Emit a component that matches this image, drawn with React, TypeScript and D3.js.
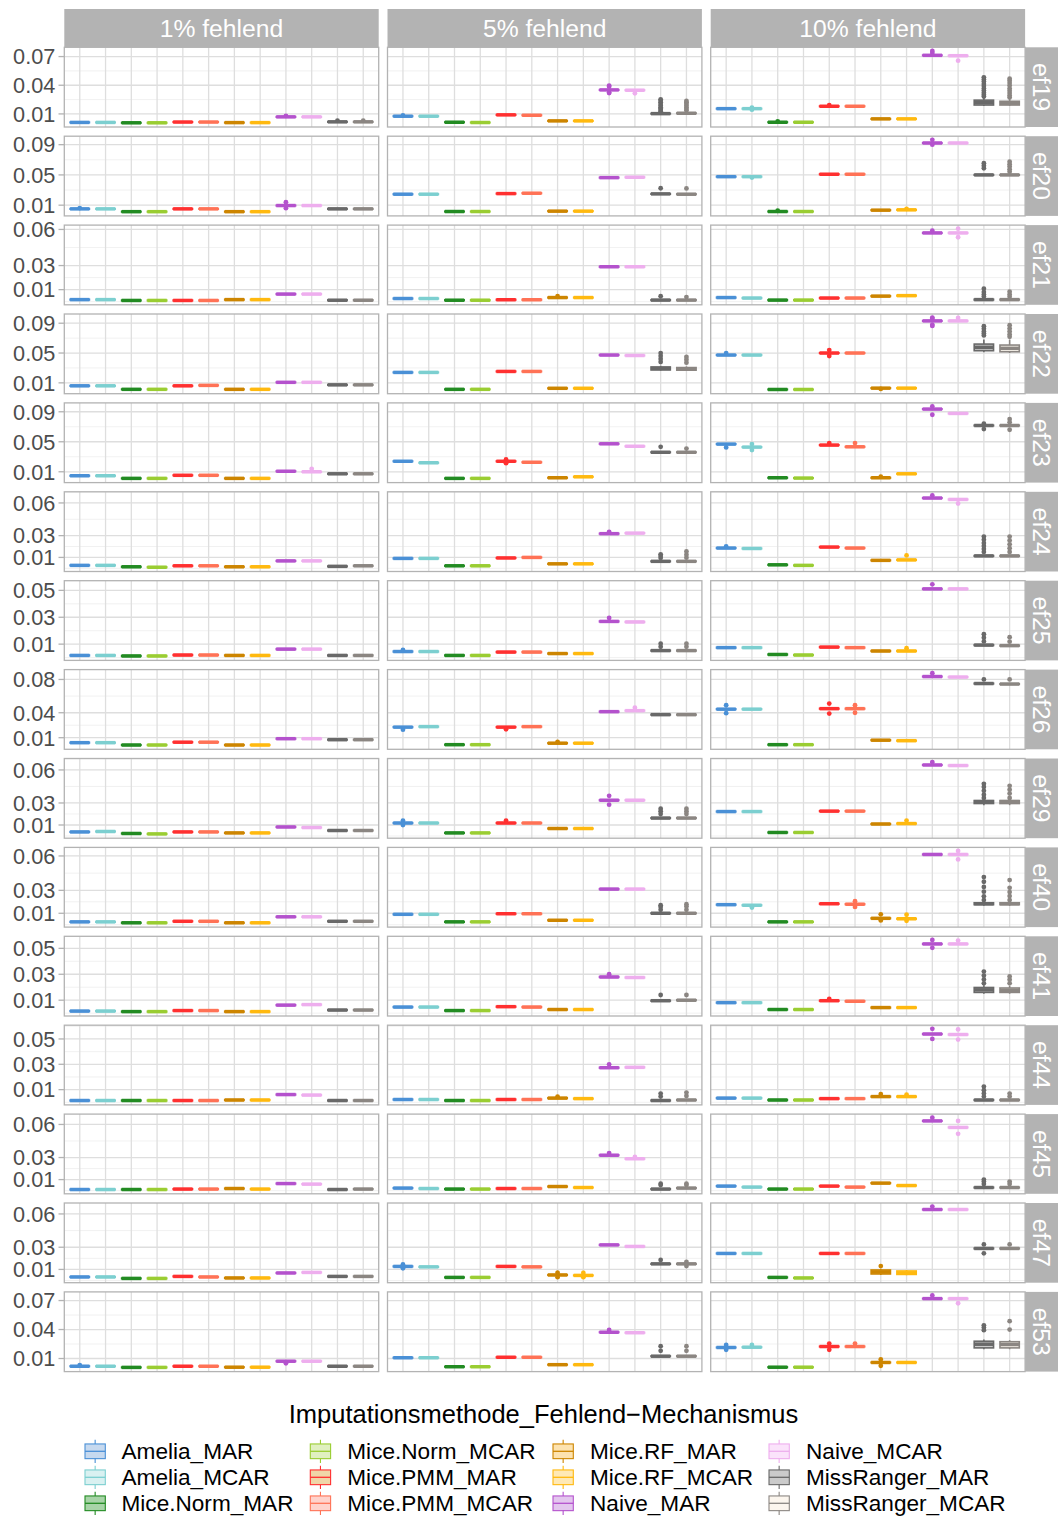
import React from 'react';
import * as d3 from 'd3';

const methods = [
  'Amelia_MAR', 'Amelia_MCAR', 'Mice.Norm_MAR', 'Mice.Norm_MCAR', 'Mice.PMM_MAR', 'Mice.PMM_MCAR',
  'Mice.RF_MAR', 'Mice.RF_MCAR', 'Naive_MAR', 'Naive_MCAR', 'MissRanger_MAR', 'MissRanger_MCAR',
];
const lineColors = [
  '#4a90d6', '#7ccfd0', '#228b22', '#9acd32', '#ff3030', '#ff7256',
  '#cd8500', '#ffb90f', '#b452cd', '#eeaeee', '#696969', '#8b8682',
];
const fillColors = [
  '#c6d9ef', '#d9f1f1', '#a8d4a8', '#e0f0c0', '#f0d6a8', '#ffd3cc',
  '#fde3b0', '#ffe9b5', '#e3c6ee', '#fbe3fb', '#cbcbcb', '#fcf6ee',
];
const facetCols = ['1% fehlend', '5% fehlend', '10% fehlend'];
const facetRows = ['ef19', 'ef20', 'ef21', 'ef22', 'ef23', 'ef24', 'ef25', 'ef26', 'ef29', 'ef40', 'ef41', 'ef44', 'ef45', 'ef47', 'ef53'];
const rowTicks = [
  [0.01, 0.04, 0.07], [0.01, 0.05, 0.09], [0.01, 0.03, 0.06], [0.01, 0.05, 0.09], [0.01, 0.05, 0.09],
  [0.01, 0.03, 0.06], [0.01, 0.03, 0.05], [0.01, 0.04, 0.08], [0.01, 0.03, 0.06], [0.01, 0.03, 0.06],
  [0.01, 0.03, 0.05], [0.01, 0.03, 0.05], [0.01, 0.03, 0.06], [0.01, 0.03, 0.06], [0.01, 0.04, 0.07],
];
// typical half interquartile range per row (boxes are very flat)
const rowHalfIQR = [0.0003, 0.0004, 0.0003, 0.0004, 0.0004, 0.0003, 0.0003, 0.0004, 0.0003, 0.0003, 0.0003, 0.0003, 0.0003, 0.0003, 0.0003];

// medians: [1% fehlend], [5% fehlend], [10% fehlend], each in methods order
const med_ef19 = [
  [0.0011, 0.0011, 0.0007, 0.0007, 0.0015, 0.0015, 0.0009, 0.0009, 0.0069, 0.0069, 0.0017, 0.0017],
  [0.0076, 0.0076, 0.0013, 0.0010, 0.0090, 0.0086, 0.0027, 0.0027, 0.0351, 0.0348, 0.0103, 0.0107],
  [0.0155, 0.0155, 0.0013, 0.0013, 0.0180, 0.0180, 0.0048, 0.0048, 0.0713, 0.0709, 0.0218, 0.0212],
];
const med_ef20 = [
  [0.0051, 0.0051, 0.0014, 0.0014, 0.0051, 0.0051, 0.0014, 0.0014, 0.0095, 0.0095, 0.0051, 0.0051],
  [0.0245, 0.0245, 0.0016, 0.0016, 0.0253, 0.0258, 0.0021, 0.0021, 0.0464, 0.0469, 0.0249, 0.0245],
  [0.0477, 0.0477, 0.0016, 0.0016, 0.0509, 0.0509, 0.0034, 0.0038, 0.0922, 0.0922, 0.0500, 0.0500],
];
const med_ef21 = [
  [0.0017, 0.0017, 0.0010, 0.0010, 0.0010, 0.0010, 0.0017, 0.0017, 0.0063, 0.0063, 0.0012, 0.0012],
  [0.0026, 0.0026, 0.0012, 0.0012, 0.0016, 0.0016, 0.0034, 0.0034, 0.0290, 0.0290, 0.0013, 0.0013],
  [0.0034, 0.0030, 0.0013, 0.0013, 0.0030, 0.0030, 0.0046, 0.0050, 0.0571, 0.0571, 0.0017, 0.0017],
];
const med_ef22 = [
  [0.0060, 0.0060, 0.0013, 0.0013, 0.0060, 0.0066, 0.0013, 0.0013, 0.0107, 0.0107, 0.0073, 0.0073],
  [0.0240, 0.0240, 0.0013, 0.0013, 0.0253, 0.0253, 0.0027, 0.0027, 0.0473, 0.0467, 0.0293, 0.0287],
  [0.0473, 0.0473, 0.0011, 0.0011, 0.0500, 0.0500, 0.0029, 0.0029, 0.0931, 0.0931, 0.0576, 0.0563],
];
const med_ef23 = [
  [0.0047, 0.0047, 0.0012, 0.0012, 0.0053, 0.0053, 0.0012, 0.0012, 0.0107, 0.0100, 0.0073, 0.0073],
  [0.0240, 0.0220, 0.0012, 0.0012, 0.0240, 0.0227, 0.0020, 0.0033, 0.0473, 0.0440, 0.0360, 0.0360],
  [0.0469, 0.0429, 0.0020, 0.0016, 0.0456, 0.0433, 0.0020, 0.0073, 0.0936, 0.0878, 0.0717, 0.0717],
];
const med_ef24 = [
  [0.0027, 0.0027, 0.0014, 0.0010, 0.0023, 0.0023, 0.0014, 0.0014, 0.0068, 0.0068, 0.0018, 0.0023],
  [0.0091, 0.0091, 0.0023, 0.0023, 0.0095, 0.0100, 0.0041, 0.0041, 0.0318, 0.0323, 0.0064, 0.0064],
  [0.0186, 0.0182, 0.0032, 0.0027, 0.0195, 0.0186, 0.0073, 0.0077, 0.0645, 0.0632, 0.0114, 0.0114],
];
const med_ef25 = [
  [0.0016, 0.0016, 0.0012, 0.0012, 0.0019, 0.0019, 0.0016, 0.0016, 0.0063, 0.0063, 0.0016, 0.0016],
  [0.0045, 0.0045, 0.0016, 0.0016, 0.0041, 0.0041, 0.0030, 0.0030, 0.0269, 0.0265, 0.0052, 0.0052],
  [0.0074, 0.0074, 0.0023, 0.0019, 0.0078, 0.0074, 0.0049, 0.0049, 0.0511, 0.0511, 0.0093, 0.0089],
];
const med_ef26 = [
  [0.0040, 0.0040, 0.0012, 0.0012, 0.0046, 0.0046, 0.0012, 0.0012, 0.0088, 0.0088, 0.0076, 0.0076],
  [0.0227, 0.0233, 0.0016, 0.0016, 0.0227, 0.0233, 0.0034, 0.0034, 0.0413, 0.0425, 0.0377, 0.0377],
  [0.0443, 0.0443, 0.0016, 0.0016, 0.0449, 0.0449, 0.0070, 0.0064, 0.0835, 0.0829, 0.0751, 0.0745],
];
const med_ef29 = [
  [0.0037, 0.0041, 0.0023, 0.0019, 0.0037, 0.0037, 0.0028, 0.0028, 0.0082, 0.0077, 0.0050, 0.0050],
  [0.0118, 0.0118, 0.0028, 0.0028, 0.0118, 0.0118, 0.0068, 0.0068, 0.0325, 0.0325, 0.0163, 0.0163],
  [0.0222, 0.0222, 0.0032, 0.0032, 0.0226, 0.0226, 0.0109, 0.0113, 0.0645, 0.0640, 0.0312, 0.0312],
];
const med_ef40 = [
  [0.0025, 0.0025, 0.0017, 0.0017, 0.0030, 0.0030, 0.0017, 0.0017, 0.0069, 0.0069, 0.0030, 0.0030],
  [0.0091, 0.0091, 0.0025, 0.0025, 0.0096, 0.0096, 0.0039, 0.0039, 0.0311, 0.0311, 0.0100, 0.0100],
  [0.0175, 0.0170, 0.0025, 0.0025, 0.0183, 0.0179, 0.0056, 0.0052, 0.0613, 0.0613, 0.0183, 0.0183],
];
const med_ef41 = [
  [0.0016, 0.0016, 0.0012, 0.0012, 0.0020, 0.0020, 0.0012, 0.0012, 0.0062, 0.0066, 0.0024, 0.0024],
  [0.0047, 0.0047, 0.0020, 0.0020, 0.0050, 0.0047, 0.0028, 0.0028, 0.0279, 0.0275, 0.0096, 0.0100],
  [0.0081, 0.0081, 0.0028, 0.0028, 0.0096, 0.0092, 0.0043, 0.0043, 0.0534, 0.0534, 0.0180, 0.0176],
];
const med_ef44 = [
  [0.0014, 0.0014, 0.0014, 0.0014, 0.0014, 0.0014, 0.0018, 0.0018, 0.0061, 0.0057, 0.0014, 0.0014],
  [0.0022, 0.0022, 0.0014, 0.0014, 0.0022, 0.0022, 0.0033, 0.0029, 0.0273, 0.0276, 0.0014, 0.0018],
  [0.0033, 0.0033, 0.0018, 0.0018, 0.0029, 0.0029, 0.0045, 0.0045, 0.0539, 0.0535, 0.0018, 0.0018],
];
const med_ef45 = [
  [0.0010, 0.0010, 0.0010, 0.0010, 0.0014, 0.0014, 0.0019, 0.0014, 0.0064, 0.0059, 0.0010, 0.0014],
  [0.0023, 0.0019, 0.0014, 0.0014, 0.0019, 0.0019, 0.0037, 0.0028, 0.0321, 0.0289, 0.0014, 0.0023],
  [0.0041, 0.0032, 0.0014, 0.0014, 0.0041, 0.0032, 0.0068, 0.0046, 0.0632, 0.0573, 0.0028, 0.0028],
];
const med_ef47 = [
  [0.0032, 0.0032, 0.0019, 0.0019, 0.0037, 0.0032, 0.0023, 0.0023, 0.0068, 0.0073, 0.0037, 0.0037],
  [0.0127, 0.0123, 0.0028, 0.0028, 0.0127, 0.0123, 0.0050, 0.0046, 0.0321, 0.0307, 0.0150, 0.0150],
  [0.0244, 0.0244, 0.0028, 0.0023, 0.0244, 0.0244, 0.0077, 0.0068, 0.0640, 0.0640, 0.0289, 0.0289],
];
const med_ef53 = [
  [0.0020, 0.0020, 0.0008, 0.0008, 0.0020, 0.0020, 0.0010, 0.0010, 0.0072, 0.0072, 0.0020, 0.0020],
  [0.0108, 0.0108, 0.0015, 0.0015, 0.0113, 0.0113, 0.0036, 0.0036, 0.0372, 0.0367, 0.0124, 0.0124],
  [0.0214, 0.0217, 0.0010, 0.0010, 0.0224, 0.0224, 0.0059, 0.0059, 0.0720, 0.0720, 0.0248, 0.0245],
];
const medians = [med_ef19, med_ef20, med_ef21, med_ef22, med_ef23, med_ef24, med_ef25, med_ef26, med_ef29, med_ef40, med_ef41, med_ef44, med_ef45, med_ef47, med_ef53];

// boxes with a visible spread: [row, col, method, lower whisker, q1, q3, upper whisker]
const boxOverrides: [string, number, string, number, number, number, number][] = [
  ['ef19', 2, 'MissRanger_MAR', 0.0184, 0.0193, 0.0244, 0.0270],
  ['ef19', 2, 'MissRanger_MCAR', 0.0185, 0.0193, 0.0232, 0.0260],
  ['ef22', 1, 'MissRanger_MAR', 0.0265, 0.0273, 0.0313, 0.0330],
  ['ef22', 1, 'MissRanger_MCAR', 0.0262, 0.0270, 0.0305, 0.0320],
  ['ef22', 2, 'MissRanger_MAR', 0.0510, 0.0531, 0.0620, 0.0683],
  ['ef22', 2, 'MissRanger_MCAR', 0.0500, 0.0517, 0.0607, 0.0680],
  ['ef29', 2, 'MissRanger_MAR', 0.0280, 0.0295, 0.0322, 0.0335],
  ['ef29', 2, 'MissRanger_MCAR', 0.0280, 0.0295, 0.0322, 0.0335],
  ['ef40', 2, 'MissRanger_MAR', 0.0165, 0.0175, 0.0192, 0.0205],
  ['ef40', 2, 'MissRanger_MCAR', 0.0165, 0.0175, 0.0192, 0.0205],
  ['ef41', 2, 'MissRanger_MAR', 0.0150, 0.0160, 0.0198, 0.0215],
  ['ef41', 2, 'MissRanger_MCAR', 0.0150, 0.0160, 0.0194, 0.0210],
  ['ef47', 2, 'Mice.RF_MAR', 0.0050, 0.0059, 0.0095, 0.0105],
  ['ef47', 2, 'Mice.RF_MCAR', 0.0048, 0.0055, 0.0086, 0.0095],
  ['ef53', 2, 'MissRanger_MAR', 0.0196, 0.0210, 0.0279, 0.0296],
  ['ef53', 2, 'MissRanger_MCAR', 0.0196, 0.0210, 0.0274, 0.0290],
];

// outliers: [row, col, method, values]
const outlierList: [string, number, string, number[]][] = [
  ['ef19', 0, 'Naive_MAR', [0.0080]], ['ef19', 0, 'MissRanger_MAR', [0.0030]], ['ef19', 0, 'MissRanger_MCAR', [0.0030]],
  ['ef19', 1, 'Amelia_MAR', [0.0085]], ['ef19', 1, 'Naive_MAR', [0.0318, 0.0323, 0.0385, 0.0396]], ['ef19', 1, 'Naive_MCAR', [0.0316]],
  ['ef19', 1, 'MissRanger_MAR', [0.0128, 0.0142, 0.0156, 0.0171, 0.0188, 0.0203, 0.0221, 0.0237, 0.0253]],
  ['ef19', 1, 'MissRanger_MCAR', [0.0135, 0.0151, 0.0168, 0.0186, 0.0204, 0.0221, 0.0236]],
  ['ef19', 2, 'Amelia_MCAR', [0.0144, 0.0166]], ['ef19', 2, 'Mice.Norm_MAR', [0.0022]], ['ef19', 2, 'Mice.PMM_MAR', [0.0191]],
  ['ef19', 2, 'Naive_MAR', [0.0738, 0.0759]], ['ef19', 2, 'Naive_MCAR', [0.0657]],
  ['ef19', 2, 'MissRanger_MAR', [0.0282, 0.0301, 0.0322, 0.0344, 0.0367, 0.0391, 0.0413, 0.0438, 0.0461, 0.0483]],
  ['ef19', 2, 'MissRanger_MCAR', [0.0272, 0.0293, 0.0318, 0.0342, 0.0367, 0.0396, 0.0423, 0.0447, 0.0469]],

  ['ef20', 0, 'Naive_MAR', [0.0140, 0.0060]], ['ef20', 0, 'Amelia_MAR', [0.0062]],
  ['ef20', 1, 'MissRanger_MAR', [0.0324]], ['ef20', 1, 'MissRanger_MCAR', [0.0322]],
  ['ef20', 2, 'Amelia_MCAR', [0.0465]], ['ef20', 2, 'Naive_MAR', [0.0964, 0.0900]], ['ef20', 2, 'Mice.Norm_MAR', [0.0026]],
  ['ef20', 2, 'Mice.RF_MCAR', [0.0050]],
  ['ef20', 2, 'MissRanger_MAR', [0.0588, 0.0621, 0.0654]], ['ef20', 2, 'MissRanger_MCAR', [0.0543, 0.0575, 0.0610, 0.0642, 0.0675]],

  ['ef21', 1, 'Mice.RF_MAR', [0.0045]], ['ef21', 1, 'MissRanger_MAR', [0.0045]], ['ef21', 1, 'MissRanger_MCAR', [0.0038]],
  ['ef21', 2, 'Naive_MAR', [0.0590]], ['ef21', 2, 'Naive_MCAR', [0.0606, 0.0535]],
  ['ef21', 2, 'MissRanger_MAR', [0.0042, 0.0060, 0.0080, 0.0108]], ['ef21', 2, 'MissRanger_MCAR', [0.0040, 0.0060, 0.0083]],

  ['ef22', 1, 'MissRanger_MAR', [0.0380, 0.0420, 0.0460, 0.0500]], ['ef22', 1, 'MissRanger_MCAR', [0.0370, 0.0410, 0.0447]],
  ['ef22', 2, 'Amelia_MAR', [0.0500]], ['ef22', 2, 'Mice.PMM_MAR', [0.0540, 0.0460]], ['ef22', 2, 'Mice.RF_MAR', [0.0018]],
  ['ef22', 2, 'Naive_MAR', [0.0975, 0.0960, 0.0880, 0.0864]], ['ef22', 2, 'Naive_MCAR', [0.0970]],
  ['ef22', 2, 'MissRanger_MAR', [0.0736, 0.0762, 0.0790, 0.0825, 0.0860]],
  ['ef22', 2, 'MissRanger_MCAR', [0.0717, 0.0750, 0.0790, 0.0830, 0.0873]],

  ['ef23', 0, 'Naive_MCAR', [0.0140]],
  ['ef23', 1, 'Mice.PMM_MAR', [0.0265, 0.0215]], ['ef23', 1, 'MissRanger_MAR', [0.0433]], ['ef23', 1, 'MissRanger_MCAR', [0.0410]],
  ['ef23', 2, 'Amelia_MAR', [0.0425]], ['ef23', 2, 'Amelia_MCAR', [0.0470, 0.0390]], ['ef23', 2, 'Mice.PMM_MAR', [0.0483]],
  ['ef23', 2, 'Mice.PMM_MCAR', [0.0483]], ['ef23', 2, 'Mice.RF_MAR', [0.0035]], ['ef23', 2, 'Naive_MAR', [0.0970, 0.0860]],
  ['ef23', 2, 'MissRanger_MAR', [0.0669, 0.0740]], ['ef23', 2, 'MissRanger_MCAR', [0.0803, 0.0760, 0.0660]],

  ['ef24', 1, 'Naive_MAR', [0.0335]],
  ['ef24', 1, 'MissRanger_MAR', [0.0095, 0.0112, 0.0128]], ['ef24', 1, 'MissRanger_MCAR', [0.0098, 0.0125, 0.0155]],
  ['ef24', 2, 'Amelia_MAR', [0.0200]], ['ef24', 2, 'Mice.RF_MCAR', [0.0118]], ['ef24', 2, 'Naive_MAR', [0.0669]], ['ef24', 2, 'Naive_MCAR', [0.0595]],
  ['ef24', 2, 'MissRanger_MAR', [0.0150, 0.0178, 0.0205, 0.0232, 0.0262, 0.0291]],
  ['ef24', 2, 'MissRanger_MCAR', [0.0150, 0.0185, 0.0220, 0.0256, 0.0291]],

  ['ef25', 1, 'Amelia_MAR', [0.0057]], ['ef25', 1, 'Naive_MAR', [0.0295]],
  ['ef25', 1, 'MissRanger_MAR', [0.0080, 0.0103]], ['ef25', 1, 'MissRanger_MCAR', [0.0080, 0.0103]],
  ['ef25', 2, 'Mice.RF_MCAR', [0.0070]], ['ef25', 2, 'Naive_MAR', [0.0545]],
  ['ef25', 2, 'MissRanger_MAR', [0.0120, 0.0148, 0.0174]], ['ef25', 2, 'MissRanger_MCAR', [0.0118, 0.0152]],

  ['ef26', 1, 'Amelia_MAR', [0.0196]], ['ef26', 1, 'Mice.PMM_MAR', [0.0200]], ['ef26', 1, 'Mice.RF_MAR', [0.0050]], ['ef26', 1, 'Naive_MCAR', [0.0460]],
  ['ef26', 2, 'Amelia_MAR', [0.0490, 0.0395]], ['ef26', 2, 'Mice.PMM_MAR', [0.0510, 0.0390]], ['ef26', 2, 'Mice.PMM_MCAR', [0.0490, 0.0400]],
  ['ef26', 2, 'Naive_MAR', [0.0875]], ['ef26', 2, 'MissRanger_MAR', [0.0800]], ['ef26', 2, 'MissRanger_MCAR', [0.0800]],

  ['ef29', 1, 'Amelia_MAR', [0.0140, 0.0100]], ['ef29', 1, 'Mice.PMM_MAR', [0.0140]], ['ef29', 1, 'Naive_MAR', [0.0365, 0.0285]],
  ['ef29', 1, 'MissRanger_MAR', [0.0200, 0.0225, 0.0248]], ['ef29', 1, 'MissRanger_MCAR', [0.0200, 0.0225, 0.0248]],
  ['ef29', 2, 'Mice.RF_MCAR', [0.0140]], ['ef29', 2, 'Naive_MAR', [0.0671]],
  ['ef29', 2, 'MissRanger_MAR', [0.0345, 0.0375, 0.0410, 0.0445, 0.0474]], ['ef29', 2, 'MissRanger_MCAR', [0.0345, 0.0385, 0.0420, 0.0456]],

  ['ef40', 1, 'MissRanger_MAR', [0.0130, 0.0155, 0.0170]], ['ef40', 1, 'MissRanger_MCAR', [0.0130, 0.0160, 0.0179]],
  ['ef40', 2, 'Amelia_MCAR', [0.0150]], ['ef40', 2, 'Mice.PMM_MCAR', [0.0205, 0.0155]], ['ef40', 2, 'Mice.RF_MAR', [0.0091, 0.0038]],
  ['ef40', 2, 'Mice.RF_MCAR', [0.0087, 0.0035]], ['ef40', 2, 'Naive_MCAR', [0.0643, 0.0570]],
  ['ef40', 2, 'MissRanger_MAR', [0.0215, 0.0248, 0.0288, 0.0330, 0.0375, 0.0416]],
  ['ef40', 2, 'MissRanger_MCAR', [0.0215, 0.0250, 0.0285, 0.0322, 0.0390]],

  ['ef41', 1, 'Naive_MAR', [0.0300]], ['ef41', 1, 'MissRanger_MAR', [0.0140]], ['ef41', 1, 'MissRanger_MCAR', [0.0140]],
  ['ef41', 2, 'Mice.PMM_MAR', [0.0110]], ['ef41', 2, 'Naive_MAR', [0.0565, 0.0504]], ['ef41', 2, 'Naive_MCAR', [0.0560]],
  ['ef41', 2, 'MissRanger_MAR', [0.0230, 0.0260, 0.0290, 0.0321]], ['ef41', 2, 'MissRanger_MCAR', [0.0230, 0.0258, 0.0283]],

  ['ef44', 1, 'Mice.RF_MAR', [0.0045]], ['ef44', 1, 'Naive_MAR', [0.0300]],
  ['ef44', 1, 'MissRanger_MAR', [0.0045, 0.0069]], ['ef44', 1, 'MissRanger_MCAR', [0.0050, 0.0077]],
  ['ef44', 2, 'Mice.RF_MAR', [0.0065]], ['ef44', 2, 'Mice.RF_MCAR', [0.0060]],
  ['ef44', 2, 'Naive_MAR', [0.0580, 0.0500]], ['ef44', 2, 'Naive_MCAR', [0.0575, 0.0495]],
  ['ef44', 2, 'MissRanger_MAR', [0.0045, 0.0070, 0.0095, 0.0124]], ['ef44', 2, 'MissRanger_MCAR', [0.0045, 0.0069]],

  ['ef45', 1, 'Naive_MAR', [0.0340]], ['ef45', 1, 'Naive_MCAR', [0.0305]],
  ['ef45', 1, 'MissRanger_MAR', [0.0050, 0.0063]], ['ef45', 1, 'MissRanger_MCAR', [0.0050, 0.0063]],
  ['ef45', 2, 'Naive_MAR', [0.0661]], ['ef45', 2, 'Naive_MCAR', [0.0632, 0.0515]],
  ['ef45', 2, 'MissRanger_MAR', [0.0060, 0.0082, 0.0100]], ['ef45', 2, 'MissRanger_MCAR', [0.0060, 0.0082]],

  ['ef47', 1, 'Amelia_MAR', [0.0145, 0.0110]], ['ef47', 1, 'Mice.RF_MAR', [0.0070, 0.0030]], ['ef47', 1, 'Mice.RF_MCAR', [0.0068, 0.0030]],
  ['ef47', 1, 'MissRanger_MAR', [0.0186]], ['ef47', 1, 'MissRanger_MCAR', [0.0168, 0.0130]],
  ['ef47', 2, 'Mice.RF_MAR', [0.0130]], ['ef47', 2, 'Naive_MAR', [0.0666]],
  ['ef47', 2, 'MissRanger_MAR', [0.0325, 0.0245]], ['ef47', 2, 'MissRanger_MCAR', [0.0325]],

  ['ef53', 0, 'Amelia_MAR', [0.0032]], ['ef53', 0, 'Naive_MAR', [0.0050]],
  ['ef53', 1, 'Naive_MAR', [0.0395]], ['ef53', 1, 'MissRanger_MAR', [0.0180, 0.0227]], ['ef53', 1, 'MissRanger_MCAR', [0.0180, 0.0227]],
  ['ef53', 2, 'Amelia_MAR', [0.0240, 0.0190]], ['ef53', 2, 'Amelia_MCAR', [0.0240]], ['ef53', 2, 'Mice.PMM_MAR', [0.0255, 0.0190]],
  ['ef53', 2, 'Mice.PMM_MCAR', [0.0255]], ['ef53', 2, 'Mice.RF_MAR', [0.0090, 0.0025]], ['ef53', 2, 'Naive_MAR', [0.0752]],
  ['ef53', 2, 'Naive_MCAR', [0.0672]], ['ef53', 2, 'MissRanger_MAR', [0.0393, 0.0420, 0.0444]], ['ef53', 2, 'MissRanger_MCAR', [0.0400, 0.0486]],
];

const legendTitle = 'Imputationsmethode_Fehlend\u2212Mechanismus';

type Box = { m: number; med: number; q1: number; q3: number; wlo: number; whi: number; out: number[] };

function buildBoxes(r: number, c: number): Box[] {
  const h = rowHalfIQR[r];
  return methods.map((name, m) => {
    const med = medians[r][c][m];
    const b: Box = { m, med, q1: med - h, q3: med + h, wlo: med - 2 * h, whi: med + 2 * h, out: [] };
    const o = boxOverrides.find((d) => d[0] === facetRows[r] && d[1] === c && d[2] === name);
    if (o) { b.wlo = o[3]; b.q1 = o[4]; b.q3 = o[5]; b.whi = o[6]; }
    const ol = outlierList.find((d) => d[0] === facetRows[r] && d[1] === c && d[2] === name);
    if (ol) b.out = ol[3];
    return b;
  });
}

function minorBreaks(major: number[], lo: number, hi: number): number[] {
  const b = [...major];
  const bd = b[1] - b[0];
  if (lo < b[0]) b.unshift(b[0] - bd);
  if (hi > b[b.length - 1]) b.push(b[b.length - 1] + bd);
  const res: number[] = [];
  for (let i = 0; i < b.length - 1; i++) res.push((b[i] + b[i + 1]) / 2);
  return res.filter((v) => v > lo && v < hi && !major.some((mj) => Math.abs(mj - v) < 1e-9));
}

const FONT = '"Liberation Sans", Arial, Helvetica, sans-serif';

export default function App() {
  const W = 1058;
  const H = 1518;
  const colLeft = [64.3, 387.5, 710.7];
  const panelW = 314.4;
  const rowTop0 = 47.3;
  const rowStep = 88.9;
  const panelH = 79.7;
  const stripTop = 9;
  const stripRightW = 33;

  const panels: JSX.Element[] = [];
  const yAxes: JSX.Element[] = [];
  const rightStrips: JSX.Element[] = [];

  facetRows.forEach((rowName, r) => {
    const top = rowTop0 + r * rowStep;
    const bottom = top + panelH;
    const rowBoxes = facetCols.map((_, c) => buildBoxes(r, c));
    const allVals: number[] = [];
    rowBoxes.forEach((bs) => bs.forEach((b) => { allVals.push(b.wlo, b.whi, ...b.out); }));
    const [lo, hi] = d3.extent(allVals) as [number, number];
    const span = hi - lo;
    const y = d3.scaleLinear().domain([lo - 0.05 * span, hi + 0.05 * span]).range([bottom, top]);
    const dom = y.domain();
    const majors = rowTicks[r];
    const minors = minorBreaks(majors, dom[0], dom[1]);

    facetCols.forEach((_, c) => {
      const left = colLeft[c];
      const x = d3.scalePoint<string>().domain(methods).range([left, left + panelW]).padding(0.6);
      const bw = x.step() * 0.75;
      panels.push(
        <g key={`p-${r}-${c}`}>
          <rect x={left} y={top} width={panelW} height={panelH} fill="#ffffff" />
          {minors.map((v, i) => (
            <line key={`mi${i}`} x1={left} x2={left + panelW} y1={y(v)} y2={y(v)} stroke="#ebebeb" strokeWidth={0.7} />
          ))}
          {majors.map((v, i) => (
            <line key={`ma${i}`} x1={left} x2={left + panelW} y1={y(v)} y2={y(v)} stroke="#dedede" strokeWidth={1.3} />
          ))}
          {methods.map((mname) => (
            <line key={`v${mname}`} x1={x(mname)} x2={x(mname)} y1={top} y2={bottom} stroke="#dedede" strokeWidth={1.3} />
          ))}
          {rowBoxes[c].map((b) => {
            const cx = x(methods[b.m]) as number;
            const col = lineColors[b.m];
            return (
              <g key={`b${b.m}`}>
                {b.out.map((v, i) => (
                  <circle key={i} cx={cx} cy={y(v)} r={2.4} fill={col} />
                ))}
                <line x1={cx} x2={cx} y1={y(b.whi)} y2={y(b.q3)} stroke={col} strokeWidth={1.6} />
                <line x1={cx} x2={cx} y1={y(b.q1)} y2={y(b.wlo)} stroke={col} strokeWidth={1.6} />
                <rect x={cx - bw / 2} y={y(b.q3)} width={bw} height={Math.max(0, y(b.q1) - y(b.q3))}
                  fill={fillColors[b.m]} stroke={col} strokeWidth={1.6} />
                <line x1={cx - bw / 2} x2={cx + bw / 2} y1={y(b.med)} y2={y(b.med)} stroke={col} strokeWidth={3.5} />
              </g>
            );
          })}
          <rect x={left} y={top} width={panelW} height={panelH} fill="none" stroke="#b3b3b3" strokeWidth={1.3} />
        </g>
      );
    });

    yAxes.push(
      <g key={`ya-${r}`}>
        {majors.map((v, i) => (
          <g key={i}>
            <line x1={colLeft[0] - 5.8} x2={colLeft[0]} y1={y(v)} y2={y(v)} stroke="#b3b3b3" strokeWidth={1.3} />
            <text x={colLeft[0] - 9} y={y(v)} dy="0.36em" textAnchor="end" fontSize={21.7} fill="#4d4d4d" fontFamily={FONT}>
              {v.toFixed(2)}
            </text>
          </g>
        ))}
      </g>
    );

    const sx = colLeft[2] + panelW;
    rightStrips.push(
      <g key={`rs-${r}`}>
        <rect x={sx} y={top} width={stripRightW} height={panelH} fill="#b3b3b3" />
        <text transform={`translate(${sx + stripRightW / 2},${top + panelH / 2}) rotate(90)`} textAnchor="middle" dy="0.36em"
          fontSize={24.7} fill="#ffffff" fontFamily={FONT}>{rowName}</text>
      </g>
    );
  });

  const topStrips = facetCols.map((name, c) => (
    <g key={`ts-${c}`}>
      <rect x={colLeft[c]} y={stripTop} width={panelW} height={rowTop0 - stripTop} fill="#b3b3b3" />
      <text x={colLeft[c] + panelW / 2} y={(stripTop + rowTop0) / 2} dy="0.36em" textAnchor="middle" fontSize={24.7}
        fill="#ffffff" fontFamily={FONT}>{name}</text>
    </g>
  ));

  const legKeyX = [85, 310.3, 553, 769];
  const legTextX = [121.5, 347.3, 590, 806];
  const legRowY = [1451.3, 1477.3, 1503.3];
  const keyW = 20.3;
  const keyH = 14.7;
  const legend = methods.map((name, i) => {
    const col = Math.floor(i / 3);
    const row = i % 3;
    const kx = legKeyX[col];
    const cy = legRowY[row];
    const cx = kx + keyW / 2;
    return (
      <g key={`lg-${name}`}>
        <line x1={cx} x2={cx} y1={cy - keyH / 2 - 4.3} y2={cy + keyH / 2 + 4.3} stroke={lineColors[i]} strokeWidth={1.1} />
        <rect x={kx} y={cy - keyH / 2} width={keyW} height={keyH} fill={fillColors[i]} stroke={lineColors[i]} strokeWidth={1.1} />
        <line x1={kx} x2={kx + keyW} y1={cy} y2={cy} stroke={lineColors[i]} strokeWidth={1.3} />
        <text x={legTextX[col]} y={cy} dy="0.36em" fontSize={22.6} fill="#000000" fontFamily={FONT}>{name}</text>
      </g>
    );
  });

  return (
    <div style={{ position: 'absolute', left: 0, top: 0 }}>
      <svg width={W} height={H} viewBox={`0 0 ${W} ${H}`} style={{ display: 'block', background: '#ffffff' }}>
        <rect x={0} y={0} width={W} height={H} fill="#ffffff" />
        {panels}
        {yAxes}
        {rightStrips}
        {topStrips}
        <text x={543.5} y={1414} dy="0.36em" textAnchor="middle" fontSize={25.5} fill="#000000" fontFamily={FONT}>{legendTitle}</text>
        {legend}
      </svg>
    </div>
  );
}
